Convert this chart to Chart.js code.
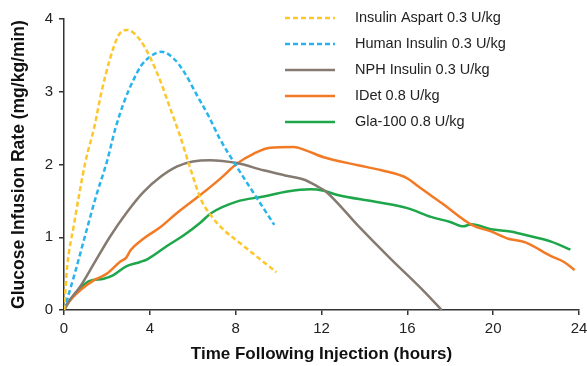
<!DOCTYPE html>
<html>
<head>
<meta charset="utf-8">
<script src="https://cdn.jsdelivr.net/npm/chart.js@4.4.1/dist/chart.umd.min.js"></script>
<style>
  html, body { margin: 0; padding: 0; background: #fff; }
  #wrap { width: 587px; height: 366px; }
</style>
</head>
<body>
<div id="wrap"><canvas id="girChart" width="587" height="366"></canvas></div>
<script>
// Hours after injection and glucose infusion rate (mg/kg/min)
const aspartHours = [0, 0.15, 0.45, 1.0, 1.4, 1.75, 2.15, 2.55, 2.95, 3.55, 4.0, 4.5, 4.95, 5.4, 5.85, 6.4, 6.9, 7.45, 8.2, 9.0, 9.9];
const aspartGir = [0, 0.6, 1.15, 2.04, 2.5, 3.0, 3.46, 3.78, 3.85, 3.71, 3.48, 3.14, 2.77, 2.4, 1.98, 1.51, 1.28, 1.1, 0.92, 0.73, 0.52];

const humanHours = [0, 0.5, 1.0, 1.5, 2.0, 2.4, 2.8, 3.2, 3.6, 4.1, 4.55, 5.1, 5.6, 6.2, 6.75, 7.25, 8.05, 8.7, 9.25, 9.8];
const humanGir = [0, 0.5, 1.04, 1.57, 2.04, 2.5, 2.86, 3.14, 3.36, 3.5, 3.55, 3.46, 3.27, 2.95, 2.66, 2.36, 1.97, 1.67, 1.42, 1.17];

const nphHours = [0, 0.15, 0.75, 1.4, 2.15, 2.95, 3.7, 4.5, 5.25, 6.0, 6.8, 8.05, 9.3, 10.3, 11.2, 11.8, 12.2, 13.7, 15.2, 16.8, 17.6];
const nphGir = [0, 0.09, 0.32, 0.64, 1.01, 1.35, 1.62, 1.83, 1.97, 2.04, 2.06, 2.02, 1.92, 1.85, 1.79, 1.7, 1.63, 1.16, 0.71, 0.25, 0];

const idetHours = [0, 0.25, 0.75, 1.4, 2.0, 2.6, 2.9, 3.1, 3.7, 4.5, 5.25, 6.35, 7.3, 8.05, 8.85, 9.6, 10.7, 11.3, 12.1, 13.7, 14.8, 16.0, 16.5, 17.6, 19.0, 19.9, 20.7, 21.5, 22.7, 23.3, 23.8];
const idetGir = [0, 0.12, 0.27, 0.41, 0.5, 0.66, 0.72, 0.82, 0.98, 1.14, 1.33, 1.58, 1.81, 2.01, 2.15, 2.23, 2.24, 2.19, 2.1, 1.99, 1.92, 1.81, 1.7, 1.47, 1.17, 1.08, 0.98, 0.93, 0.74, 0.66, 0.55];

const glaHours = [0, 0.25, 0.75, 1.2, 1.85, 2.3, 2.9, 3.55, 3.9, 4.8, 5.6, 6.35, 6.85, 8.05, 9.3, 10.4, 11.5, 12.1, 12.75, 14.45, 16.0, 17.1, 18.0, 18.6, 19.0, 19.9, 20.8, 21.8, 22.7, 23.6];
const glaGir = [0, 0.12, 0.3, 0.4, 0.43, 0.48, 0.6, 0.66, 0.7, 0.88, 1.03, 1.2, 1.33, 1.49, 1.56, 1.63, 1.66, 1.64, 1.58, 1.49, 1.4, 1.28, 1.21, 1.15, 1.18, 1.11, 1.08, 1.01, 0.94, 0.83];

const seriesLabels = ['Insulin Aspart 0.3 U/kg', 'Human Insulin 0.3 U/kg', 'NPH Insulin 0.3 U/kg', 'IDet 0.8 U/kg', 'Gla-100 0.8 U/kg'];
const xTicks = [0, 4, 8, 12, 16, 20, 24];
const yTicks = [0, 1, 2, 3, 4];

const FONT = '"Liberation Sans", Arial, Helvetica, sans-serif';
const AXIS = '#333';

function pairs(xs, ys) {
    return xs.map((x, i) => ({ x: x, y: ys[i] }));
}

function series(label, xs, ys, color, dashed) {
    return {
        label: label,
        data: pairs(xs, ys),
        borderColor: color,
        backgroundColor: color,
        borderWidth: 2.5,
        borderDash: dashed ? [5, 3] : [],
        pointRadius: 0,
        cubicInterpolationMode: 'monotone',
        fill: false
    };
}

// legend drawn inside the plot, top right
const insideLegend = {
    id: 'insideLegend',
    afterDraw(chart) {
        const ctx = chart.ctx;
        ctx.save();
        ctx.font = '14.5px ' + FONT;
        ctx.textBaseline = 'middle';
        chart.data.datasets.forEach((ds, i) => {
            const y = 18 + i * 26;
            ctx.strokeStyle = ds.borderColor;
            ctx.lineWidth = 2.5;
            ctx.setLineDash(ds.borderDash);
            ctx.beginPath();
            ctx.moveTo(285, y);
            ctx.lineTo(335, y);
            ctx.stroke();
            ctx.setLineDash([]);
            ctx.fillStyle = '#222';
            ctx.fillText(ds.label, 355, y);
        });
        ctx.restore();
    }
};

const ctx = document.getElementById('girChart').getContext('2d');
const chart = new Chart(ctx, {
    type: 'line',
    data: {
        datasets: [
            series(seriesLabels[0], aspartHours, aspartGir, '#FDC62A', true),
            series(seriesLabels[1], humanHours, humanGir, '#27B4EE', true),
            series(seriesLabels[2], nphHours, nphGir, '#857A70', false),
            series(seriesLabels[3], idetHours, idetGir, '#F37A24', false),
            series(seriesLabels[4], glaHours, glaGir, '#1DA64A', false)
        ]
    },
    options: {
        responsive: false,
        animation: false,
        devicePixelRatio: 1,
        layout: { padding: { top: 19, right: 0, left: 0, bottom: 0 } },
        plugins: {
            legend: { display: false },
            tooltip: { enabled: false }
        },
        scales: {
            x: {
                type: 'linear',
                min: 0,
                max: 24,
                afterBuildTicks: (s) => { s.ticks = xTicks.map(v => ({ value: v })); },
                afterFit: (s) => { s.height = 56; s.paddingRight = 8; },
                ticks: { color: '#222', font: { family: FONT, size: 15 }, padding: 5, maxRotation: 0 },
                grid: { display: true, drawOnChartArea: false, drawTicks: true, tickLength: 5, color: AXIS, lineWidth: 1.5 },
                border: { display: true, color: AXIS, width: 1.5 },
                title: {
                    display: true,
                    text: 'Time Following Injection (hours)',
                    color: '#111',
                    font: { family: FONT, size: 17, weight: 'bold' },
                    padding: { top: 0, bottom: 1 }
                }
            },
            y: {
                min: 0,
                max: 4,
                afterBuildTicks: (s) => { s.ticks = yTicks.map(v => ({ value: v })); },
                afterFit: (s) => { s.width = 64; },
                ticks: { color: '#222', font: { family: FONT, size: 15 }, padding: 6 },
                grid: { display: true, drawOnChartArea: false, drawTicks: true, tickLength: 5, color: AXIS, lineWidth: 1.5 },
                border: { display: true, color: AXIS, width: 1.5 },
                title: {
                    display: true,
                    text: 'Glucose Infusion Rate (mg/kg/min)',
                    color: '#111',
                    font: { family: FONT, size: 17.5, weight: 'bold' },
                    padding: { top: 9, bottom: 0 }
                }
            }
        }
    },
    plugins: [insideLegend]
});
</script>
</body>
</html>
